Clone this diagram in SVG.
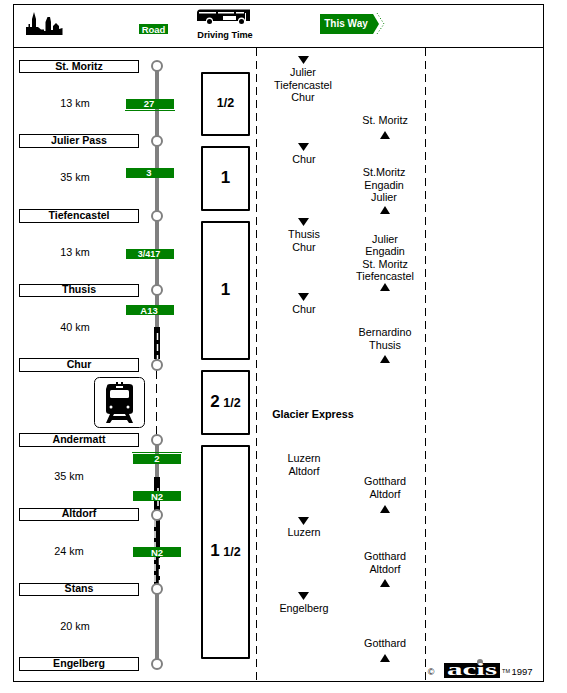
<svg xmlns="http://www.w3.org/2000/svg" width="567" height="693" viewBox="0 0 567 693">
<style>
text{font-family:"Liberation Sans",Arial,sans-serif;font-size:10.800px;fill:#000;text-anchor:middle}
.n{font-weight:bold;font-size:10.600px}
.nb{fill:#fff;stroke:#000;stroke-width:1}
.st{fill:#fff;stroke:#808080;stroke-width:2}
.tb{fill:#fff;stroke:#000;stroke-width:2;stroke-linejoin:round}
.big{font-weight:bold;font-size:17px}
.mid{font-weight:bold;font-size:12.500px}
.rd{fill:#008000}
.rt{fill:#fff;font-weight:bold;font-size:9.500px}
.rail{stroke:#808080;stroke-width:4;fill:none}
.bk{stroke:#000;stroke-width:6;fill:none}
.wd{stroke:#fff;stroke-width:1.500;stroke-dasharray:7 4;fill:none}
.dash{stroke:#000;stroke-width:1;stroke-dasharray:8 5;fill:none}
</style>
<defs>
<polygon id="dn" points="-5.500,0 5.500,0 0,8" fill="#000"/>
<polygon id="up" points="-5,8 5,8 0,0" fill="#000"/>
</defs>
<rect x="0" y="0" width="567" height="693" fill="#fff"/>
<g id="frame">
<rect x="13.500" y="4.500" width="530" height="677" fill="none" stroke="#000"/>
<line x1="14" y1="47.500" x2="544" y2="47.500" stroke="#000"/>
<line class="dash" x1="256.500" y1="48" x2="256.500" y2="682"/>
<line class="dash" x1="425.500" y1="48" x2="425.500" y2="682"/>
</g>
<g id="header">
<path id="skyline" d="M26 35V27H28.500V24H30V27H32V19L34 12L36 19V27H38L41 29.500H44V31H45.500V22L47.500 17H50L51 22V30H53V26L56 23L59 26V29L62.500 28V35Z" fill="#000"/>
<g id="legend-road"><rect class="rd" x="139" y="24" width="29" height="10"/><text class="rt" x="153.500" y="32.500" style="font-size:9.500px">Road</text></g>
<g id="legend-time">
<path d="M197 13Q197 9 201 9.500H250V21H245A3.500 3.500 0 0 0 238 21H213A3.500 3.500 0 0 0 206 21H197Z" fill="#000"/>
<circle cx="209.500" cy="21.500" r="2.500" fill="#000"/><circle cx="241.500" cy="21.500" r="2.500" fill="#000"/>
<rect x="199" y="12" width="17" height="1.500" fill="#fff"/><rect x="218" y="12" width="16" height="1.500" fill="#fff"/><rect x="236" y="12" width="8" height="1.500" fill="#fff"/>
<rect x="223" y="16" width="13" height="4" fill="#fff"/><rect x="245" y="13" width="1" height="8" fill="#fff"/>
<text x="225" y="37.500" style="font-size:9.200px;font-weight:bold">Driving Time</text>
</g>
<g id="legend-way">
<polygon class="rd" points="320,14 373,14 379,24 373,34 320,34"/>
<path d="M377 13L384 24L377 34" fill="none" stroke="#008000" stroke-dasharray="1 2"/>
<text x="346" y="27" style="fill:#fff;font-weight:bold;font-size:10px">This Way</text>
</g>
</g>
<g id="connectors">
<line class="rail" x1="157" y1="71" x2="157" y2="585"/>
<line class="rail" x1="157" y1="594" x2="157" y2="659"/>
<line x1="157" y1="370" x2="157" y2="435" stroke="#fff" stroke-width="6"/>
<line x1="156.500" y1="370" x2="156.500" y2="435" stroke="#000" stroke-dasharray="9 5"/>
<g id="tunnels">
<line class="bk" x1="157" y1="327" x2="157" y2="359"/><line class="wd" x1="157.500" y1="333" x2="157.500" y2="359"/>
<line class="bk" x1="157" y1="477" x2="157" y2="510"/><line class="wd" x1="158" y1="488" x2="158" y2="510"/>
<line class="bk" x1="157" y1="520" x2="157" y2="584"/><line class="wd" x1="155" y1="520" x2="155" y2="584"/><line class="wd" x1="159.500" y1="558" x2="159.500" y2="584"/>
</g>
</g>
<g id="st-moritz"><rect class="nb" x="19.500" y="60.500" width="119" height="12"/><text class="n" x="79" y="69.500">St. Moritz</text><circle class="st" cx="157" cy="66" r="5"/></g>
<g id="julier-pass"><rect class="nb" x="19.500" y="134.500" width="119" height="13"/><text class="n" x="79" y="144">Julier Pass</text><circle class="st" cx="157" cy="141" r="5"/></g>
<g id="tiefencastel"><rect class="nb" x="19.500" y="209.500" width="119" height="13"/><text class="n" x="79" y="219">Tiefencastel</text><circle class="st" cx="157" cy="216" r="5"/></g>
<g id="thusis"><rect class="nb" x="19.500" y="284.500" width="119" height="12"/><text class="n" x="79" y="293">Thusis</text><circle class="st" cx="157" cy="290" r="5"/></g>
<g id="chur"><rect class="nb" x="19.500" y="358.500" width="119" height="13"/><text class="n" x="79" y="368">Chur</text><circle class="st" cx="157" cy="365" r="5"/></g>
<g id="andermatt"><rect class="nb" x="19.500" y="433.500" width="119" height="13"/><text class="n" x="79" y="443">Andermatt</text><circle class="st" cx="157" cy="440" r="5"/></g>
<g id="altdorf"><rect class="nb" x="19.500" y="508.500" width="119" height="12"/><text class="n" x="79" y="517">Altdorf</text><circle class="st" cx="157" cy="515" r="5"/></g>
<g id="stans"><rect class="nb" x="19.500" y="583.500" width="119" height="12"/><text class="n" x="79" y="592">Stans</text><circle class="st" cx="157" cy="589" r="5"/></g>
<g id="engelberg"><rect class="nb" x="19.500" y="657.500" width="119" height="13"/><text class="n" x="79" y="667">Engelberg</text><circle class="st" cx="157" cy="664" r="5"/></g>
<g id="distances">
<text x="75" y="107">13 km</text><text x="75" y="181">35 km</text><text x="75" y="256">13 km</text><text x="75" y="331">40 km</text>
<text x="69" y="480">35 km</text><text x="69" y="555">24 km</text><text x="75" y="630">20 km</text>
</g>
<g id="road-labels">
<g><rect class="rd" x="126" y="99" width="48" height="10"/><line x1="125" y1="110.500" x2="175" y2="110.500" stroke="#008000"/><text class="rt" x="149" y="107">27</text></g>
<g><rect class="rd" x="126" y="168" width="48" height="10"/><text class="rt" x="149" y="176">3</text></g>
<g><rect class="rd" x="126" y="249" width="48" height="10"/><text class="rt" x="149" y="257" style="font-size:9px">3/417</text></g>
<g><rect class="rd" x="126" y="305" width="48" height="10"/><text class="rt" x="149" y="313.500">A13</text></g>
<g><rect class="rd" x="133" y="454" width="48" height="10"/><line x1="132" y1="452.500" x2="182" y2="452.500" stroke="#008000"/><text class="rt" x="157" y="461.500">2</text></g>
<g><rect class="rd" x="133" y="491" width="48" height="10"/><text class="rt" x="157" y="499.500">N2</text></g>
<g><rect class="rd" x="133" y="547" width="48" height="10"/><text class="rt" x="157" y="555.500">N2</text></g>
</g>
<g id="train-icon">
<rect x="94.500" y="377.500" width="50" height="50" rx="5" fill="#fff" stroke="#000"/>
<path d="M107 386Q107 384 110 384H129Q133 384 133 387V411Q133 414 129 414H110Q106 414 106 411V389Z" fill="#000"/>
<rect x="116" y="382" width="2" height="3" fill="#000"/><rect x="121" y="382" width="2" height="3" fill="#000"/>
<rect x="110" y="390" width="19" height="8" rx="1.500" fill="#fff"/><rect x="116" y="386" width="7" height="2" fill="#fff"/>
<circle cx="111" cy="407" r="1.500" fill="#fff"/><circle cx="128" cy="407" r="1.500" fill="#fff"/>
<path d="M110 414L106 423H110L112 420H127L129 423H133L129 414H125L126 416H113L114 414Z" fill="#000"/>
</g>
<g id="time-1"><rect class="tb" x="202" y="73" width="47" height="62"/><text class="mid" x="225.500" y="107">1/2</text></g>
<g id="time-2"><rect class="tb" x="202" y="147" width="47" height="63"/><text class="big" x="225.500" y="183">1</text></g>
<g id="time-3"><rect class="tb" x="202" y="222" width="47" height="137"/><text class="big" x="225.500" y="295">1</text></g>
<g id="time-4"><rect class="tb" x="202" y="371" width="47" height="63"/><text x="225.500" y="407" class="mid"><tspan style="font-size:17px">2</tspan> 1/2</text></g>
<g id="time-5"><rect class="tb" x="202" y="446" width="47" height="212"/><text x="225.500" y="556" class="mid"><tspan style="font-size:17px">1</tspan> 1/2</text></g>
<g id="down-stops">
<use href="#dn" x="303.500" y="56"/>
<text x="303" y="76">Julier</text><text x="303" y="89">Tiefencastel</text><text x="303" y="101">Chur</text>
<use href="#dn" x="303.500" y="143"/><text x="304" y="163">Chur</text>
<use href="#dn" x="303.500" y="218"/><text x="304" y="238">Thusis</text><text x="304" y="251">Chur</text>
<use href="#dn" x="303.500" y="293"/><text x="304" y="313">Chur</text>
<text x="313" y="418" style="font-weight:bold;font-size:10.800px">Glacier Express</text>
<text x="304" y="462">Luzern</text><text x="304" y="475">Altdorf</text>
<use href="#dn" x="303.500" y="517"/><text x="304" y="536">Luzern</text>
<use href="#dn" x="303.500" y="592"/><text x="304" y="612">Engelberg</text>
</g>
<g id="up-stops">
<text x="385" y="124">St. Moritz</text><use href="#up" x="385" y="131"/>
<text x="384" y="176">St.Moritz</text><text x="384" y="189">Engadin</text><text x="384" y="201">Julier</text><use href="#up" x="385" y="206"/>
<text x="385" y="243">Julier</text><text x="385" y="255">Engadin</text><text x="385" y="268">St. Moritz</text><text x="385" y="280">Tiefencastel</text><use href="#up" x="385" y="283"/>
<text x="385" y="336">Bernardino</text><text x="385" y="349">Thusis</text><use href="#up" x="385" y="355"/>
<text x="385" y="485">Gotthard</text><text x="385" y="498">Altdorf</text><use href="#up" x="385" y="505"/>
<text x="385" y="560">Gotthard</text><text x="385" y="573">Altdorf</text><use href="#up" x="385" y="579"/>
<text x="385" y="647">Gotthard</text><use href="#up" x="385" y="654"/>
</g>
<g id="credit">
<text x="431" y="675" style="font-size:9px">©</text>
<rect x="444" y="663" width="56" height="15" fill="#000"/>
<circle cx="480" cy="662" r="3" fill="#808080"/>
<text x="472" y="675" textLength="50" lengthAdjust="spacingAndGlyphs" style="fill:#fff;font-family:'Liberation Serif',serif;font-weight:bold;font-size:17px">acis</text>
<text x="506" y="673" style="font-size:5.500px">TM</text>
<text x="522" y="675" style="font-size:9.500px">1997</text>
</g>
</svg>
